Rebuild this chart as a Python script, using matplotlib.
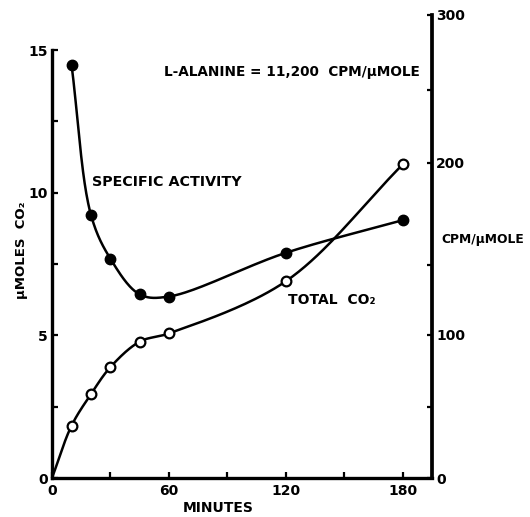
import numpy as np
import matplotlib
matplotlib.use("Agg")
import matplotlib.pyplot as plt
from matplotlib.ticker import FixedLocator, NullFormatter

plt.rcParams['font.family'] = ['DejaVu Sans']
plt.rcParams['font.weight'] = 'bold'

# ---- data ----
minutes_co2 = [0, 10, 20, 30, 45, 60, 120, 180]
total_co2 = [0.0, 1.83, 2.94, 3.89, 4.78, 5.07, 6.9, 11.0]          # umoles CO2 (left axis)

minutes_sa = [10, 20, 30, 45, 60, 120, 180]
specific_activity = [267, 174.5, 153, 129, 127.5, 156, 172]         # CPM/umole (right axis)

x_major = [0, 60, 120, 180]
x_minor = [30, 90, 150]
left_major = [0, 5, 10, 15]
left_minor = [2.5, 7.5, 12.5]
right_major = [0, 100, 200, 300]
right_minor = [50, 150, 250]
# the hand-drawn right scale is not evenly spaced: value -> drawn height (px)
right_scale_vals = [0, 50, 100, 150, 200, 250, 300]
right_scale_pos = [0, 71, 143, 213, 315, 388, 463]


def smooth_through(axis, x, y, n=40):
    """Centripetal Catmull-Rom curve through the data points, built in display space."""
    P = axis.transData.transform(np.column_stack([x, y]).astype(float))
    P = np.vstack([2 * P[0] - P[1], P, 2 * P[-1] - P[-2]])
    out = []
    for i in range(1, len(P) - 2):
        p0, p1, p2, p3 = P[i - 1], P[i], P[i + 1], P[i + 2]
        t0 = 0.0
        t1 = t0 + np.linalg.norm(p1 - p0) ** 0.5
        t2 = t1 + np.linalg.norm(p2 - p1) ** 0.5
        t3 = t2 + np.linalg.norm(p3 - p2) ** 0.5
        t = np.linspace(t1, t2, n)[:, None]
        a1 = (t1 - t) / (t1 - t0) * p0 + (t - t0) / (t1 - t0) * p1
        a2 = (t2 - t) / (t2 - t1) * p1 + (t - t1) / (t2 - t1) * p2
        a3 = (t3 - t) / (t3 - t2) * p2 + (t - t2) / (t3 - t2) * p3
        b1 = (t2 - t) / (t2 - t0) * a1 + (t - t0) / (t2 - t0) * a2
        b2 = (t3 - t) / (t3 - t1) * a2 + (t - t1) / (t3 - t1) * a3
        c = (t2 - t) / (t2 - t1) * b1 + (t - t1) / (t2 - t1) * b2
        out.append(c if i == 1 else c[1:])
    C = axis.transData.inverted().transform(np.vstack(out))
    return C[:, 0], C[:, 1]


W, H = 530, 517
fig = plt.figure(figsize=(W / 100, H / 100), dpi=100)
L, R, B, T = 52, 432, 478, 15
ax = fig.add_axes([L / W, 1 - B / H, (R - L) / W, (B - T) / H])
ax2 = ax.twinx()

px_per_min = 1.95
px_per_unit = 28.53
ax.set_xlim(0, (R - L) / px_per_min)
ax.set_ylim(0, (B - T) / px_per_unit)

fwd = lambda v: np.interp(v, right_scale_vals, right_scale_pos)
inv = lambda p: np.interp(p, right_scale_pos, right_scale_vals)
ax2.set_yscale('function', functions=(fwd, inv))
ax2.set_ylim(0, 300)

lw_spine = 2.4
for s in ['top', 'right']:
    ax.spines[s].set_visible(False)
for s in ['top', 'left', 'bottom']:
    ax2.spines[s].set_visible(False)
ax.spines['left'].set_linewidth(lw_spine)
ax.spines['bottom'].set_linewidth(lw_spine)
ax2.spines['right'].set_linewidth(lw_spine + 0.3)
ax.spines['left'].set_bounds(0, 15)

ax.xaxis.set_major_locator(FixedLocator(x_major))
ax.xaxis.set_minor_locator(FixedLocator(x_minor))
ax.yaxis.set_major_locator(FixedLocator(left_major))
ax.yaxis.set_minor_locator(FixedLocator(left_minor))
ax2.yaxis.set_major_locator(FixedLocator(right_major))
ax2.yaxis.set_minor_locator(FixedLocator(right_minor))
ax2.yaxis.set_minor_formatter(NullFormatter())
ax.xaxis.set_minor_formatter(NullFormatter())
ax.yaxis.set_minor_formatter(NullFormatter())

tk = dict(direction='in', width=1.6, colors='black', labelsize=10)
ax.tick_params(axis='x', which='both', length=4, pad=4, **tk)
ax.tick_params(axis='y', which='both', length=4, pad=3, **tk)
ax2.tick_params(axis='y', which='both', length=3.5, pad=3, **tk)
for lab in ax.get_xticklabels() + ax.get_yticklabels() + ax2.get_yticklabels():
    lab.set_fontweight('bold')

# total CO2 curve (open circles)
xs, ys = smooth_through(ax, minutes_co2, total_co2)
ax.plot(xs, ys, color='black', lw=1.8, zorder=3)
ax.plot(minutes_co2[1:], total_co2[1:], 'o', ms=7, mfc='white', mec='black',
        mew=1.6, zorder=4, clip_on=False)

# specific activity curve (filled circles)
xs2, ys2 = smooth_through(ax2, minutes_sa, specific_activity)
ax2.plot(xs2, ys2, color='black', lw=1.8, zorder=3)
ax2.plot(minutes_sa, specific_activity, 'o', ms=7.5, mfc='black', mec='black',
         zorder=4, clip_on=False)


def ftext(x, y, s, **kw):
    fig.text(x / W, 1 - y / H, s, fontweight='bold', color='black', **kw)


ftext(164, 72, 'L-ALANINE = 11,200  CPM/\u03bcMOLE', fontsize=9.8, va='center', ha='left')
ftext(92, 182, 'SPECIFIC ACTIVITY', fontsize=10.3, va='center', ha='left')
ftext(288, 300, 'TOTAL  CO\u2082', fontsize=10, va='center', ha='left')
ftext(441, 240, 'CPM/\u03bcMOLE', fontsize=8.8, va='center', ha='left')
ftext(218, 508, 'MINUTES', fontsize=10, va='center', ha='center')
ftext(22, 250, '\u03bcMOLES  CO\u2082', fontsize=9.5, va='center', ha='center', rotation=90)

fig.savefig('out.png', dpi=100, facecolor='white')
